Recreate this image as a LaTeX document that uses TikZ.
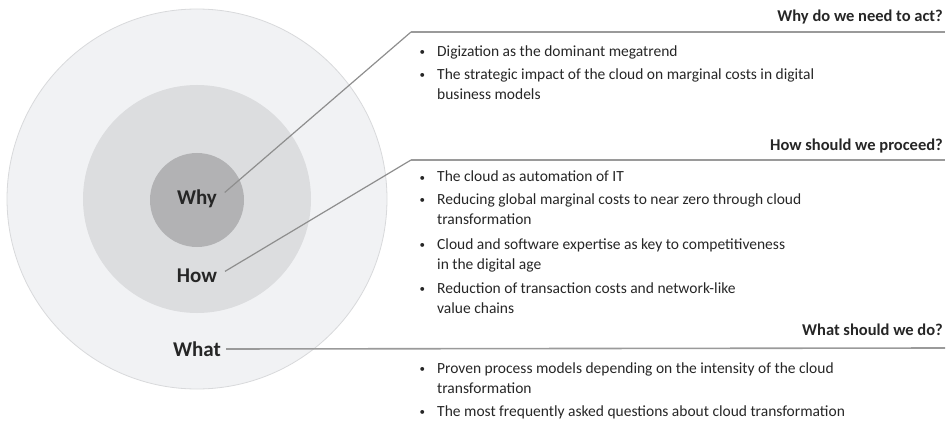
\documentclass[tikz,border=0pt]{standalone}
\usepackage{fontspec}
\setmainfont{Carlito}
\definecolor{ringouter}{HTML}{F1F2F4}
\definecolor{ringedge}{HTML}{D8D9DB}
\definecolor{ringmid}{HTML}{DCDDDF}
\definecolor{ringcore}{HTML}{B2B2B4}
\definecolor{linkgray}{HTML}{8E8E8E}
\definecolor{rulegray}{HTML}{9A9A9A}
\definecolor{ink}{HTML}{262626}
\newcommand{\bul}{\makebox[18.5pt][l]{\hspace{1pt}\raisebox{1pt}{\fontsize{11}{11}\selectfont\textbullet}}}
\newcommand{\cont}{\hspace*{18.5pt}}
\begin{document}
\begin{tikzpicture}[x=1pt,y=-1pt,
  ringlabel/.style={font=\fontsize{21}{24}\selectfont\bfseries, text=ink, inner sep=0pt},
  hdr/.style={font=\fontsize{16.5}{19}\selectfont\bfseries, text=ink, inner sep=0pt, anchor=base east},
  item/.style={font=\fontsize{15.5}{20}\selectfont, text=ink, inner sep=0pt, anchor=base west, align=left},
  link/.style={draw=linkgray, line width=1.2pt},
  rule/.style={draw=rulegray, line width=1.6pt}]
\useasboundingbox (0,0) rectangle (949,422);

% concentric rings
\fill[ringouter, draw=ringedge, line width=0.8pt] (197,199) circle[radius=190];
\fill[ringmid] (197,199) circle[radius=114];
\fill[ringcore] (197,200) circle[radius=47];

% ring labels
\node[ringlabel] (why) at (197,199) {Why};
\node[ringlabel] (how) at (197,276) {How};
\node[ringlabel] (what) at (197,349) {What};

% corners and ends of the section rules
\coordinate (whycorner) at (411,32);
\coordinate (whyend) at (945,32);
\coordinate (howcorner) at (411,160);
\coordinate (howend) at (945,160);
\coordinate (whatend) at (945,348);

% connectors
\draw[link, shorten <=10pt] (why.east) -- (whycorner);
\draw[rule] (whycorner) -- (whyend);
\draw[link, shorten <=9pt] (how.east) -- (howcorner);
\draw[rule] (howcorner) -- (howend);
\draw[rule, shorten <=5pt] (what.east) -- (whatend);

% section headers
\node[hdr] (whyhdr) at (943,22) {Why do we need to act?};
\node[hdr] (howhdr) at (943,150) {How should we proceed?};
\node[hdr] (whathdr) at (943,335) {What should we do?};

% bullet lists (two-line items are placed by the baseline of their last line)
\node[item] (why1) at (418.5,57) {\bul Digization as the dominant megatrend};
\node[item] (why2) at (418.5,100) {\bul The strategic impact of the cloud on marginal costs in digital\\\cont business models};

\node[item] (how1) at (418.5,182) {\bul The cloud as automation of IT};
\node[item] (how2) at (418.5,224) {\bul Reducing global marginal costs to near zero through cloud\\\cont transformation};
\node[item] (how3) at (418.5,269) {\bul Cloud and software expertise as key to competitiveness\\\cont in the digital age};
\node[item] (how4) at (418.5,313) {\bul Reduction of transaction costs and network-like\\\cont value chains};

\node[item] (what1) at (418.5,393) {\bul Proven process models depending on the intensity of the cloud\\\cont transformation};
\node[item] (what2) at (418.5,416.5) {\bul The most frequently asked questions about cloud transformation};
\end{tikzpicture}
\end{document}
